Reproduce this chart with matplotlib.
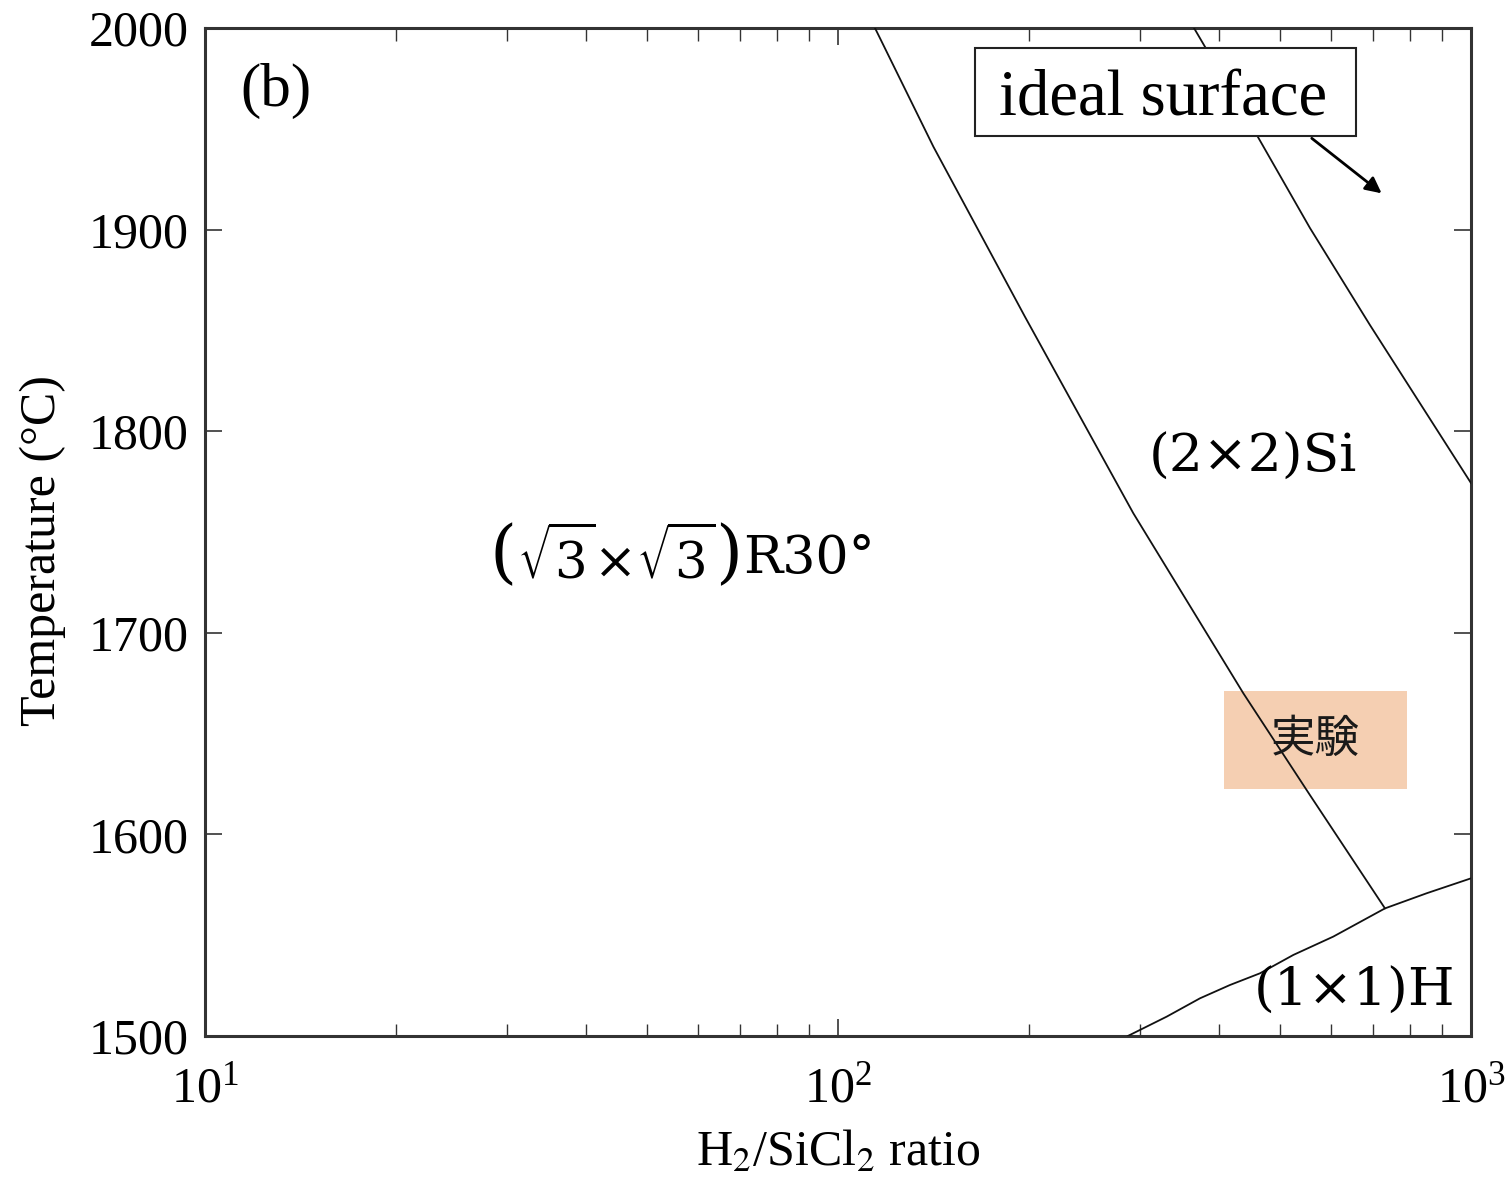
import matplotlib
matplotlib.use("Agg")
import matplotlib.pyplot as plt
from matplotlib.patches import Rectangle
from matplotlib.ticker import LogLocator, NullFormatter, FixedLocator

# ---- data ----
# boundary between (sqrt3 x sqrt3)R30 and (2x2)Si
b1_ratio = [114.4, 141.5, 197.4, 292.8, 436.9, 556.7, 731.4]
b1_temp = [2000.0, 1941.1, 1856.8, 1759.3, 1670.0, 1619.5, 1563.3]
# boundary between (2x2)Si and ideal surface
b2_ratio = [365.1, 460.8, 556.7, 692.4, 1000.0]
b2_temp = [2000.0, 1945.9, 1900.8, 1852.7, 1774.3]
# boundary of (1x1)H
b3_ratio = [287.0, 330.6, 373.2, 416.2, 464.2, 524.0, 606.0, 731.4, 851.1, 1000.0]
b3_temp = [1500.0, 1509.6, 1518.7, 1525.3, 1531.1, 1540.2, 1549.3, 1563.3, 1570.8, 1578.2]

y_ticks = [1500, 1600, 1700, 1800, 1900, 2000]
x_range = [10, 1000]
y_range = [1500, 2000]

# experiment window
exp_ratio = [407.0, 792.6]
exp_temp = [1622.5, 1671.1]

plt.rcParams['font.family'] = ['Liberation Serif', 'DejaVu Serif']

fig = plt.figure(figsize=(15.11, 11.77), dpi=100)
ax = fig.add_axes([0.1357, 0.1198, 0.9735 - 0.1357, 0.9762 - 0.1198])

ax.set_xscale('log')
ax.set_xlim(*x_range)
ax.set_ylim(*y_range)

line_kw = dict(color='#111111', lw=1.3, zorder=3)
ax.plot(b1_ratio, b1_temp, **line_kw)
ax.plot(b2_ratio, b2_temp, **line_kw)
ax.plot(b3_ratio, b3_temp, **line_kw)

ax.add_patch(Rectangle((exp_ratio[0], exp_temp[0]), exp_ratio[1] - exp_ratio[0],
                       exp_temp[1] - exp_temp[0], facecolor='#F5CFB2',
                       edgecolor='none', zorder=2))
ax.text((exp_ratio[0] * exp_ratio[1]) ** 0.5, (exp_temp[0] + exp_temp[1]) / 2 + 0.5, '実験',
        family=['Noto Sans CJK JP', 'DejaVu Sans'], fontsize=32,
        ha='center', va='center', color='#1a1a1a', zorder=4)

# region labels
t1 = ax.text(28.19, 1738.1, '(', family='DejaVu Serif', fontsize=50,
             ha='left', va='center', zorder=4)
t2 = ax.annotate(r'$\sqrt{3}{\times}\sqrt{3}$', xy=(1, 0.5), xycoords=t1,
                 xytext=(0, -2), textcoords='offset points',
                 fontsize=37, math_fontfamily='dejavuserif',
                 ha='left', va='center', zorder=4)
t3 = ax.annotate(')', xy=(1, 0.5), xycoords=t2, xytext=(0, 2), textcoords='offset points',
                 family='DejaVu Serif', fontsize=50, ha='left', va='center', zorder=4)
t4 = ax.annotate('R30°', xy=(1, 0.5), xycoords=t3, xytext=(0, -2), textcoords='offset points',
                 family='DejaVu Serif', fontsize=37.5, ha='left', va='center', zorder=4)

ax.text(452, 1787, '(2×2)Si', family='DejaVu Serif', fontsize=38.5,
        ha='center', va='center', zorder=4)
ax.text(655.7, 1522, '(1×1)H', family='DejaVu Serif', fontsize=38.5,
        ha='center', va='center', zorder=4)
ax.text(11.36, 1969, '(b)', fontsize=44, ha='left', va='center', zorder=4)

# ideal surface box + arrow
ax.annotate('', xy=(722.5, 1918), xytext=(560.4, 1945.3),
            arrowprops=dict(arrowstyle='-|>', color='black', lw=2.0,
                            mutation_scale=24, shrinkA=0, shrinkB=0), zorder=5)
ax.add_patch(Rectangle((164.6, 1946.4), 658.1 - 164.6, 1990.1 - 1946.4,
                       facecolor='white', edgecolor='#222222', lw=1.5, zorder=6))
ax.text(326.8, 1956.8, 'ideal surface', fontsize=46.5, ha='center', va='baseline',
        zorder=7)

# ticks
ax.yaxis.set_major_locator(FixedLocator(y_ticks))
ax.xaxis.set_major_locator(LogLocator(base=10))
ax.xaxis.set_minor_locator(LogLocator(base=10, subs=range(2, 10)))
ax.xaxis.set_minor_formatter(NullFormatter())
ax.tick_params(which='both', direction='in', top=True, right=True, colors='#333333',
               labelcolor='black')
ax.tick_params(axis='y', which='major', length=12, width=1.2, labelsize=36, pad=12)
ax.tick_params(axis='x', which='major', length=12, width=1.2, labelsize=36, pad=22)
ax.tick_params(axis='x', which='minor', length=9, width=1.0)
for sp in ax.spines.values():
    sp.set_linewidth(2.2)
    sp.set_color('#333333')

ax.set_xlabel(r'H$_2$/SiCl$_2$ ratio', fontsize=36, labelpad=12)
ax.set_ylabel('Temperature (°C)', fontsize=36, labelpad=16)
ax.yaxis.label.set_y(0.482)

fig.canvas.draw()
for lab in ax.get_xticklabels():
    lab.set_math_fontfamily('stix')
ax.xaxis.label.set_math_fontfamily('stix')

fig.savefig('out.png', dpi=100)
